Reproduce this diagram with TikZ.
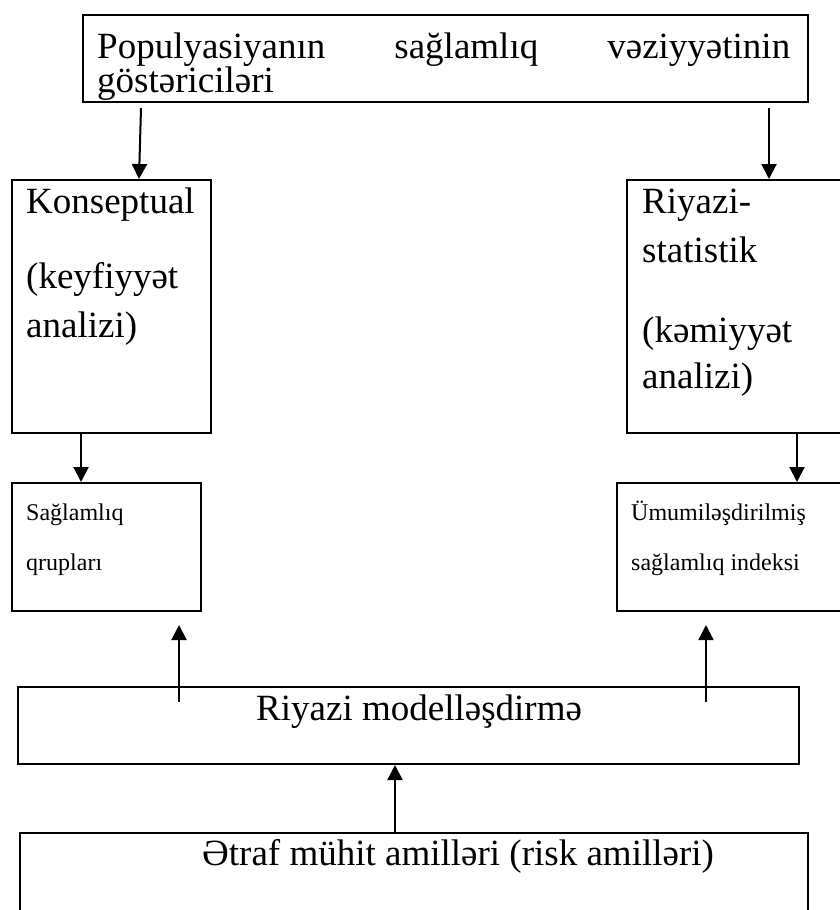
\documentclass[tikz,border=0pt]{standalone}
\usepackage{fontspec}
\setmainfont{Liberation Serif}
\usetikzlibrary{arrows.meta,calc}
\begin{document}
\begin{tikzpicture}[x=1pt,y=-1pt,
  box/.style={draw,line width=2pt,rectangle,inner sep=0pt,anchor=north west},
  big/.style={anchor=base west,inner sep=0pt,font=\fontsize{37}{40}\selectfont},
  small/.style={anchor=base west,inner sep=0pt,font=\fontsize{24}{28}\selectfont},
  arr/.style={line width=2pt,-{Triangle[width=15pt,length=15pt]}}]
\useasboundingbox[fill=white] (0,0) rectangle (840,910);

% boxes
\node[box,minimum width=725pt,minimum height=87pt] (top) at (82,14) {};
\node[box,minimum width=199pt,minimum height=253pt] (konsept) at (11,179) {};
\node[box,minimum width=224pt,minimum height=253pt] (riyazi) at (626,179) {};
\node[box,minimum width=189pt,minimum height=128pt] (sag) at (11,482) {};
\node[box,minimum width=234pt,minimum height=128pt] (umum) at (616,482) {};
\node[box,minimum width=781pt,minimum height=77pt] (model) at (17,686) {};
\node[box,minimum width=788pt,minimum height=100pt] (etraf) at (19,832) {};

% texts
\node[big] (t1) at (97,58) {\makebox[693pt][s]{Populyasiyanın sağlamlıq vəziyyətinin}};
\node[big] (t2) at (97,92) {göstəriciləri};

\node[big] (k1) at (26,213) {Konseptual};
\node[big] (k2) at (26,288) {(keyfiyyət};
\node[big] (k3) at (26,337) {analizi)};

\node[big] (r1) at (642,213) {Riyazi-};
\node[big] (r2) at (642,262) {statistik};
\node[big] (r3) at (642,342) {(kəmiyyət};
\node[big] (r4) at (642,388) {analizi)};

\node[small] (s1) at (26,520) {Sağlamlıq};
\node[small] (s2) at (26,570) {qrupları};

\node[small] (u1) at (631,520) {Ümumiləşdirilmiş};
\node[small] (u2) at (631,570) {sağlamlıq indeksi};

\node[big] (m1) at (256,720) {Riyazi modelləşdirmə};
\node[big] (e1) at (202,865) {Ətraf mühit amilləri (risk amilləri)};

% connectors
\draw[arr] ($(top.south west)+(59,5)$) -- ($(konsept.north west)+(128,0)$);
\draw[arr] ($(top.south west)+(687,5)$) -- ($(riyazi.north west)+(143,0)$);
\draw[arr] ($(konsept.south west)+(70,0)$) -- ($(sag.north west)+(70,0)$);
\draw[arr] ($(riyazi.south west)+(171,0)$) -- ($(umum.north west)+(181,0)$);
\draw[arr] ($(model.north west)+(162,16)$) -- ($(sag.south west)+(168,13)$);
\draw[arr] ($(model.north west)+(689,16)$) -- ($(umum.south west)+(90,13)$);
\draw[arr] ($(etraf.north west)+(376,0)$) -- ($(model.south west)+(378,0)$);
\end{tikzpicture}
\end{document}
